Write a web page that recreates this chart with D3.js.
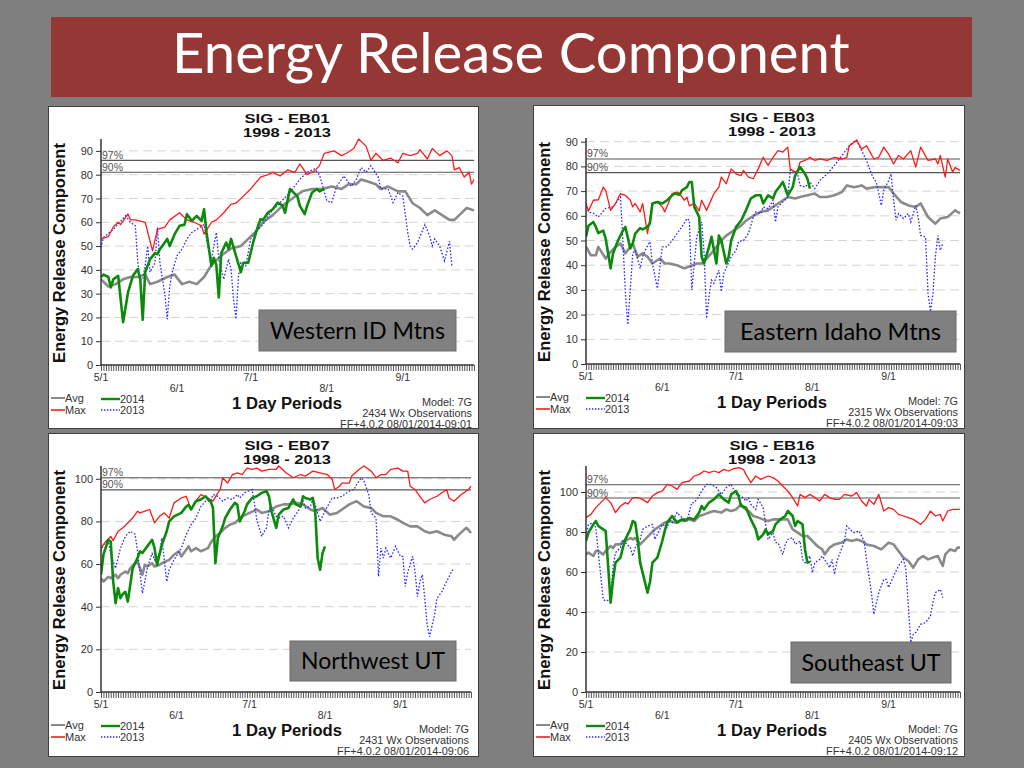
<!DOCTYPE html>
<html><head><meta charset="utf-8">
<script src="https://cdnjs.cloudflare.com/ajax/libs/d3/7.8.5/d3.min.js"></script>
<style>
html,body{margin:0;padding:0;background:#7f7f7f;}
svg{display:block;}
</style></head>
<body>
<svg id="chart" width="1024" height="768"></svg>
<script>
// ---------- DATA (day = days after May 1) ----------
const xTickDays = [0, 31, 61, 92, 123];
const xTickLabels = ["5/1", "6/1", "7/1", "8/1", "9/1"];
const seriesNames = ["Avg", "Max", "2014", "2013"];

// EB01 - Western ID Mtns
const eb01Avg = [[0,36],[3,33],[6,34],[9,36],[12,37],[15,37],[18,38],[20,34],[23,35],[27,37],[30,38],[33,34],[36,35],[39,34],[42,37],[45,42],[49,46],[53,49],[57,50],[60,53],[63,56],[66,60],[70,63],[74,67],[78,70],[82,73],[86,74],[90,74],[94,75],[98,74],[101,76],[104,76],[106,78],[109,77],[112,76],[114,74],[117,75],[121,73],[124,73],[127,68],[130,66],[133,63],[136,65],[139,63],[142,61],[144,61],[146,63],[149,66],[152,65]];
const eb01Max = [[0,53],[3,54],[5,58],[7,60],[8,59],[11,63.5],[12,61],[14,61],[18,60],[21,48],[23,57],[26,58],[28,61],[32,64],[35,61],[38,60],[41,58.5],[42,55],[45,60],[47,61],[50,64],[53,67.6],[55,68],[58,71],[61,74],[65,79],[68,80],[70,81],[73,79.5],[76,82],[79,81],[81,84.5],[84,80],[87,81.6],[89,83.7],[91,89],[95,90],[98,88],[100,89],[103,91],[105,95],[108,92],[110,86],[112,89],[115,86],[118,87],[121,85],[123,89],[126,88],[129,89],[130,90.5],[133,86.6],[135,91],[138,88],[141,90],[143,88],[144,82],[146,83],[148,79],[150,81],[151,76],[152,78]];
const eb01Y2014 = [[0,37],[1,38],[3,37],[4,32.6],[5,36],[7,37.5],[9,18],[11,30.5],[13,37.5],[15,40.3],[16,36],[17,19],[18,39],[20,44.5],[22,47],[23,46.6],[24,48.7],[27,53],[28,50],[30,55],[32,58.5],[34,59],[35,63.4],[37,60.6],[39,62.7],[41,60.6],[42,65.5],[43,55.7],[45,41.7],[46,45],[47,42],[48,28.4],[49,47],[51,51.5],[52,48.7],[53,53],[55,46],[57,39],[58,43],[60,43],[62,51.5],[64,58.5],[65,61.3],[66,61],[68,64],[70,65.5],[72,68.3],[74,67],[75,64],[77,74],[80,71],[81,67],[83,63.4],[84,67],[86,72.5],[88,74],[89,73],[91,74]];
const eb01Y2013 = [[0,49.4],[1,53.6],[5,57],[10,62.7],[12,60],[14,58.5],[15,43],[16,36],[17,36],[18,41.7],[19,50],[20,39],[22,43],[23,57.8],[24,43],[26,30],[27,19.3],[28,33],[29,39],[31,46],[33,48.7],[35,53],[37,55.7],[39,57],[42,59],[43,53],[44,47.3],[45,44.5],[47,55.7],[48,44.5],[50,36],[52,44.5],[53,40],[54,27.7],[55,19.3],[56,37],[57,43],[59,41.7],[61,53],[64,57],[66,59],[69,64],[73,68.3],[77,72.5],[81,78],[84,81],[87,82.4],[89,80],[92,69],[94,68.3],[96,75],[99,79.5],[102,75],[104,78],[106,83],[108,81],[110,83.7],[113,79],[114,74],[117,74],[119,68.3],[121,72.5],[123,71],[125,55.7],[126,50],[127,48.7],[129,51.5],[132,59],[134,54],[135,50],[136,53],[138,50],[140,43.8],[142,52],[143,41.7]];

// EB03 - Eastern Idaho Mtns
const eb03Avg = [[0,47.5],[2,44],[4,44],[5,47.4],[8,42.7],[10,45.4],[12,47.4],[14,48.8],[16,44.8],[19,48.8],[21,43.4],[23,44.8],[25,43.4],[27,40.7],[30,42.7],[32,40.7],[34,40.7],[37,40],[40,38.7],[42,39.5],[45,40.7],[47,40.7],[49,42.7],[52,46],[55,50],[57,52],[60,54],[63,56],[65,58],[68,60],[71,61.6],[74,62.2],[76,63.6],[79,65.6],[82,67.6],[85,67],[87,67.6],[90,68.3],[93,69],[95,67.6],[98,67.6],[101,68.3],[104,69.6],[106,72.3],[109,71.6],[112,72.3],[114,71],[117,71.6],[120,71.6],[123,71.6],[125,69],[128,65.6],[131,64.2],[134,63.6],[136,65],[139,59.5],[142,56.8],[144,58.9],[147,59.5],[150,62.2],[152,61]];
const eb03Max = [[0,65],[1,62],[3,66.3],[5,66.5],[7,71.6],[8,70.3],[10,62.2],[12,65],[14,69],[16,68.3],[18,66.3],[19,63.6],[20,65],[22,61.6],[23,65],[25,52.8],[27,65],[29,65.6],[31,63.6],[32,61.6],[34,66.3],[35,69],[37,69.6],[38,69],[40,66.3],[41,67.6],[42,64],[44,65],[46,62],[47,66.3],[49,62.2],[52,69],[54,71.6],[55,75.7],[57,73],[59,79],[61,77],[63,76.3],[64,78.4],[66,75.7],[68,75],[70,79],[72,83.7],[74,80.4],[76,83.7],[78,86.4],[80,85.8],[82,87.8],[83,79],[85,77.7],[86,78.4],[87,81.7],[89,82.4],[91,83.7],[93,82.4],[95,83],[98,82.4],[101,83.7],[104,83],[106,83.7],[107,88.4],[108,89],[110,90.7],[112,87],[114,88.4],[117,83],[119,83.7],[121,87.8],[123,85],[125,81],[127,84.4],[129,83],[132,86.4],[134,79.7],[136,87.8],[139,82.4],[142,83],[143,81],[144,84.4],[146,75.7],[147,83],[149,77.7],[150,79.5],[151,79],[152,78.4]];
const eb03Y2014 = [[0,51.5],[1,56],[3,57.5],[4,55.5],[5,53],[7,54],[8,50.8],[10,38.7],[11,44.8],[13,50],[15,54],[16,55.5],[18,46.8],[19,48.8],[20,52.8],[22,55],[23,54.5],[25,55.5],[26,57],[27,65],[29,65.6],[31,65],[33,66.3],[35,68.3],[36,69],[38,68.5],[39,70.3],[41,71.6],[42,73.7],[43,73.7],[44,63.6],[46,59.5],[47,43.4],[48,40.7],[50,47.4],[51,51.5],[53,40.7],[54,52],[55,50],[57,40.7],[58,43.4],[59,50],[61,55.5],[63,58],[65,62.2],[67,67],[69,68.3],[71,68.3],[72,65],[74,68.3],[76,67],[77,69.6],[79,72.3],[80,73.7],[82,68.3],[84,71.6],[85,76.3],[87,79.7],[89,77],[90,75],[91,71]];
const eb03Y2013 = [[0,65],[1,61.5],[3,61],[5,59.5],[8,63],[11,63.6],[14,67.6],[15,50],[16,28.6],[17,15.9],[19,44.8],[20,46],[22,38.7],[23,43.4],[24,46],[26,49.5],[27,40.7],[29,30.6],[31,47.4],[33,47.4],[35,50],[37,52.8],[39,55.5],[41,58.9],[42,58.2],[43,30],[45,51.5],[47,57.5],[48,44.8],[49,18.5],[50,27.3],[51,34],[52,32.7],[54,38],[55,29.3],[56,36.7],[59,43.4],[61,46],[62,49.5],[64,50],[66,52.8],[68,59.5],[69,61.6],[71,60.9],[72,63.6],[74,62.9],[76,66.3],[77,57.5],[78,63.6],[80,65.6],[82,67.6],[83,78.4],[84,77.7],[86,77],[87,72.3],[89,71.6],[91,73.7],[93,71],[95,74.3],[98,77],[101,80.4],[103,83],[106,87],[108,89.4],[110,90.5],[112,86.4],[114,82.4],[116,77],[117,75],[118,73.7],[120,64.2],[121,70.3],[123,74.3],[124,77],[125,66.3],[126,58.2],[127,60.9],[129,58.9],[131,60.9],[132,57.5],[134,64.2],[135,59.5],[136,52],[138,51.5],[139,28.6],[140,21.2],[141,28.6],[142,43.4],[143,52],[144,46],[145,48.8]];

// EB07 - Northwest UT
const eb07Avg = [[0,53.4],[1,51.8],[3,54],[4,53.4],[6,55],[7,53.4],[8,55],[10,56.5],[11,55.7],[12,58],[14,60.4],[15,61.2],[17,55],[18,59.6],[19,58.9],[21,60.4],[22,58.9],[24,59.6],[25,60.4],[28,62],[30,64.4],[32,66],[33,63.6],[35,66.7],[36,68.3],[37,66],[39,67.5],[41,66],[44,67.5],[45,69.9],[47,73],[49,74.6],[51,77],[53,78.5],[55,79.3],[58,82.4],[61,84],[64,85.6],[66,84],[69,84.8],[72,87],[75,88],[77,88],[80,88.7],[83,88],[86,85.6],[88,84.8],[91,86.3],[94,83.2],[97,84],[99,85.6],[102,88],[105,89.5],[108,87],[111,86.3],[113,84],[116,82.4],[119,82.4],[122,80.8],[124,79.3],[127,77.7],[130,77.7],[133,75.4],[135,74.6],[138,75.4],[141,73.8],[144,73],[145,71.4],[147,73.8],[150,77],[151,76],[152,74.6]];
const eb07Max = [[0,67.5],[2,70.6],[4,73],[5,71],[7,75.4],[9,77],[11,79.3],[13,81.6],[15,84.8],[16,84],[18,84.8],[20,85.6],[22,79.3],[24,82.4],[26,84],[28,81.6],[30,88.7],[33,91],[35,91.8],[36,88.7],[37,85.6],[39,89.5],[41,92.6],[44,91],[46,89.5],[48,93.4],[49,95],[50,100.5],[52,98],[54,102],[56,102.8],[58,102],[60,105],[62,104.4],[64,105],[66,103.6],[69,104.4],[72,104.4],[73,106],[76,102.8],[79,100.5],[82,102],[84,101.3],[87,103.6],[90,102.8],[93,102],[95,99.7],[96,95],[98,96.5],[99,98],[102,98],[103,101.3],[106,104.4],[108,106],[111,103.6],[113,100.5],[115,102],[117,102],[119,104.4],[122,105],[124,103.6],[126,103.6],[127,96.5],[129,95],[131,91.8],[133,88.7],[135,90.3],[138,91.8],[142,95],[143,91],[145,89.5],[148,92.6],[151,95],[152,96.5]];
const eb07Y2014 = [[0,55],[1,64.4],[3,71.4],[4,70.6],[5,52],[6,41.6],[7,48.7],[8,44],[9,46],[10,47],[11,42.4],[12,50.2],[13,58],[15,62.8],[16,66],[17,65.2],[19,68.3],[21,71.4],[22,67.5],[23,59.6],[25,69],[27,75.4],[28,80],[30,82.4],[33,84],[35,87],[36,87.8],[37,85.6],[39,89.5],[41,90.3],[43,91.8],[44,90.3],[45,89.5],[46,86.3],[47,60.4],[48,72.2],[50,77.7],[51,81.6],[53,85.6],[55,88.7],[56,87.8],[57,80],[59,84.8],[60,88],[62,91],[64,91.8],[66,93.4],[68,94.2],[69,91.8],[70,84.8],[72,77],[73,83.2],[75,85.6],[77,86.3],[79,90.3],[80,88],[82,87],[83,91.8],[84,91],[86,90.3],[87,91],[88,84.8],[89,62.8],[90,57.3],[91,65],[92,68.3]];
const eb07Y2013 = [[0,66],[1,69],[3,71.4],[4,64.4],[6,58],[7,62.8],[8,67.5],[10,73],[12,75.4],[14,74],[15,66],[17,46.3],[18,51.8],[19,58],[21,65],[22,62],[24,65],[25,72.2],[26,62],[27,51.8],[28,57.3],[30,62],[33,67.5],[35,73.8],[37,78.5],[39,81.6],[41,87],[43,89.5],[45,89.5],[46,92.6],[48,91.8],[50,89.5],[52,91],[54,90.3],[56,92.6],[57,91],[59,93.4],[62,95],[63,88.7],[64,80.8],[66,73],[68,77],[69,85.6],[70,87],[72,82.4],[73,81.6],[75,82.4],[77,77],[79,81.6],[81,84.8],[83,89.5],[84,86.3],[86,87],[87,90.3],[88,88],[90,80],[91,82.4],[93,87],[95,91],[97,91],[99,91.8],[102,94.2],[104,95],[105,97.3],[107,100.5],[108,99],[110,92.6],[111,84],[113,81.6],[114,54.2],[115,67.5],[116,62.8],[117,67.5],[119,62.8],[121,68.3],[123,63.6],[124,63.6],[125,49.5],[126,56],[128,63.6],[129,56.5],[130,44.7],[131,51.8],[132,55],[133,44],[134,31.4],[135,26],[137,36],[138,44],[140,47],[142,51.8],[144,56.5],[145,58]];

// EB16 - Southeast UT
const eb16Avg = [[0,68.8],[1,69.7],[3,68],[4,70.5],[5,70.5],[7,68.8],[8,70.5],[10,73],[11,72],[12,73.8],[14,73.8],[15,75.5],[16,75.5],[18,77],[19,76.3],[20,77],[22,73.8],[24,76.3],[26,78.8],[28,81.3],[30,83],[32,84.7],[34,85.5],[36,84.7],[38,85.5],[40,86.3],[42,86.3],[44,85.5],[46,88],[48,88.8],[50,89.7],[52,90.5],[55,89.7],[57,91.3],[59,90.5],[61,91.3],[63,93.8],[64,92.2],[66,90.5],[68,88],[70,87.2],[72,86.3],[74,85.5],[76,86.3],[79,86.3],[82,86.3],[84,81.3],[86,79.7],[88,78],[90,78],[92,75.5],[94,73],[96,71.3],[97,68.8],[99,72.2],[101,73.8],[104,74.7],[106,76.3],[108,75.5],[110,76.3],[112,75.5],[114,73.8],[117,73],[120,71.3],[123,74.7],[125,73.8],[127,70.5],[129,67.2],[131,65.5],[133,62.2],[135,66.3],[137,68],[139,66.3],[141,67.2],[143,68],[145,63],[146,68.8],[148,71.3],[150,70.5],[151,72.2],[152,72.2]];
const eb16Max = [[0,87.2],[2,88.8],[4,92.2],[6,94.7],[8,97.2],[10,94.7],[12,89.7],[14,93],[16,94.7],[17,94],[19,97.2],[21,97.2],[23,96.3],[25,94.7],[27,98],[29,99.7],[31,100.5],[33,103.8],[35,103],[37,101.3],[39,104.7],[42,105.5],[44,108],[46,108.8],[48,110.5],[50,109.7],[52,110.5],[54,109.7],[56,111.3],[58,110.5],[60,111.7],[62,112.2],[64,111.3],[65,108.8],[67,104.7],[69,108],[71,106.3],[74,108],[76,107.2],[78,105.5],[80,103],[82,100.5],[84,97.2],[86,93],[87,98.8],[89,97.2],[91,98.8],[93,97.2],[95,95.5],[97,98.8],[99,97.2],[101,96.3],[103,96.3],[105,98.8],[108,98],[110,99.7],[112,95.5],[114,93],[115,96.3],[117,93.8],[119,98.8],[121,90.5],[123,92.2],[125,91.3],[127,88.8],[129,88],[131,87.2],[133,86.3],[135,84.7],[136,83.8],[138,86.3],[140,90.5],[142,88],[144,88.8],[145,85.5],[147,90.5],[149,91.3],[151,91.3],[152,91.3]];
const eb16Y2014 = [[0,75.5],[1,79.7],[3,83.8],[4,85.5],[5,83],[7,81.3],[8,80.5],[9,63],[10,44.7],[11,56.3],[12,64.7],[14,67.2],[15,72.2],[16,76.3],[18,81.3],[19,85.5],[20,84.7],[21,76.3],[22,64.7],[24,54.7],[25,49.7],[26,55],[27,64.7],[29,67.2],[31,75.5],[32,80.5],[33,84.7],[35,88],[37,84.7],[39,86.3],[40,85.5],[42,87],[44,86.3],[46,89.7],[47,93],[48,91.3],[50,94.7],[52,96.3],[54,98.8],[56,96.3],[58,94.7],[59,98.8],[61,100.5],[62,98],[63,93],[65,92.2],[67,86.3],[69,81.3],[70,76.3],[72,78.8],[73,81.3],[74,78.8],[76,80.5],[77,83.8],[79,86.3],[81,88],[82,90.5],[84,88],[85,83],[86,85.5],[88,83.8],[89,71.3],[90,64.7],[91,65]];
const eb16Y2013 = [[0,78],[1,83.8],[3,84.5],[4,82.2],[5,69.7],[7,46.3],[8,45.5],[10,46.3],[11,63],[12,69.7],[14,72.2],[15,75.5],[16,74.7],[18,72.2],[19,68],[20,72.2],[22,76.3],[23,81.3],[25,83],[27,83.8],[28,76.3],[29,78.8],[31,83.8],[33,82.2],[34,86.3],[35,84.7],[37,89.7],[39,87.2],[41,85.5],[43,94.7],[44,94.7],[46,98],[47,100.5],[49,103.8],[51,103.8],[53,102.2],[55,98.8],[57,102.2],[59,103.8],[60,101.3],[61,98.8],[63,98],[65,95.5],[66,97.2],[67,93.8],[69,91.3],[70,96.3],[72,92.2],[73,83.8],[74,76.3],[76,79.7],[77,74.7],[78,74.7],[80,68.8],[81,73.8],[82,76.3],[84,77.2],[85,73.8],[87,75.5],[88,66.3],[89,64.7],[91,68],[92,59.7],[93,64.7],[95,66.3],[96,68],[97,66.3],[99,62.2],[100,66.3],[101,58.8],[102,65.5],[104,72.2],[105,75.5],[106,83],[108,80.5],[109,79.7],[111,80.5],[113,75.5],[114,66.3],[116,49.7],[117,38.8],[119,49.7],[121,56.3],[122,56.3],[123,52.2],[125,58],[127,63],[129,66.3],[130,61.3],[131,43],[132,24.7],[133,28.8],[134,29.7],[136,33.8],[138,34.7],[140,38],[141,44.7],[142,49.7],[144,51.3],[145,47.2]];

// Percentile lines and y ticks
const eb01Pct = [86, 81];
const eb03Pct = [83, 77.5];
const eb07Pct = [100.5, 94.8];
const eb16Pct = [103.6, 97];
const yTicks10 = [0,10,20,30,40,50,60,70,80,90];
const yTicks20 = [0,20,40,60,80,100];

// ---------- LAYOUT ----------
const panels = [
  {id:"EB01", avg:eb01Avg, max:eb01Max, y14:eb01Y2014, y13:eb01Y2013, pct:eb01Pct, yTop:95, ticks:yTicks10,
   obs:"2434 Wx Observations", stamp:"FF+4.0.2 08/01/2014-09:01", region:"Western ID Mtns",
   px:48, py:106, pw:431, ph:323, plotR:426, box:[211,204,197,41], boxTextW:175},
  {id:"EB03", avg:eb03Avg, max:eb03Max, y14:eb03Y2014, y13:eb03Y2013, pct:eb03Pct, yTop:91.5, ticks:yTicks10,
   obs:"2315 Wx Observations", stamp:"FF+4.0.2 08/01/2014-09:03", region:"Eastern Idaho Mtns",
   px:533, py:105, pw:432, ph:324, plotR:427, box:[192,206,231,41], boxTextW:201},
  {id:"EB07", avg:eb07Avg, max:eb07Max, y14:eb07Y2014, y13:eb07Y2013, pct:eb07Pct, yTop:106, ticks:yTicks20,
   obs:"2431 Wx Observations", stamp:"FF+4.0.2 08/01/2014-09:06", region:"Northwest UT",
   px:48, py:433, pw:431, ph:324, plotR:423, box:[242,208,166,40], boxTextW:144},
  {id:"EB16", avg:eb16Avg, max:eb16Max, y14:eb16Y2014, y13:eb16Y2013, pct:eb16Pct, yTop:113, ticks:yTicks20,
   obs:"2405 Wx Observations", stamp:"FF+4.0.2 08/01/2014-09:12", region:"Southeast UT",
   px:533, py:433, pw:432, ph:324, plotR:427, box:[258,209,160,41], boxTextW:139}
];

const svg = d3.select("#chart");
svg.append("rect").attr("width",1024).attr("height",768).attr("fill","#7f7f7f");

function fitWidth(sel, target){
  const w = sel.node().getComputedTextLength();
  const fs = parseFloat(sel.attr("font-size"));
  if (w > 0) sel.attr("font-size", (fs * target / w).toFixed(2));
}

// Title banner
svg.append("rect").attr("x",51).attr("y",17).attr("width",921).attr("height",80).attr("fill","#953735");
const ttl = svg.append("text").attr("x",172).attr("y",73).attr("font-family","Lato, 'Open Sans', sans-serif")
  .attr("font-size",52).attr("fill","#ffffff").text("Energy Release Component");
fitWidth(ttl, 678);

const AR = "'Liberation Sans', Arial, sans-serif";
const colors = {avg:"#8a8a8a", max:"#ff1a1a", y14:"#0b8a0b", y13:"#2a2aff"};

panels.forEach((p, i) => {
  const g = svg.append("g").attr("transform", `translate(${p.px},${p.py})`);
  g.append("rect").attr("x",0.5).attr("y",0.5).attr("width",p.pw-1).attr("height",p.ph-1)
    .attr("fill","#ffffff").attr("stroke","#3f3f3f").attr("stroke-width",1);

  const L = 53, T = 33, B = 259, R = p.plotR;
  const x = d3.scaleLinear().domain([0,152]).range([L, R]);
  const y = d3.scaleLinear().domain([0, p.yTop]).range([B, T]);

  // grid
  g.append("g").selectAll("line").data(p.ticks.filter(t => t > 0)).join("line")
    .attr("x1", L).attr("x2", R).attr("y1", d => y(d)).attr("y2", d => y(d))
    .attr("stroke","#d4d4d4").attr("stroke-width",1).attr("stroke-dasharray","9,5");

  // percentile lines
  p.pct.forEach((v, k) => {
    g.append("line").attr("x1",L).attr("x2",R).attr("y1",y(v)).attr("y2",y(v))
      .attr("stroke","#555").attr("stroke-width",1.1);
    g.append("text").attr("x",L+1).attr("y",y(v)-1.5).attr("font-family",AR).attr("font-size",10.5)
      .attr("fill","#555").text(k === 0 ? "97%" : "90%");
  });

  // clip
  const cid = "clip" + i;
  g.append("clipPath").attr("id", cid).append("rect").attr("x",L).attr("y",T-6).attr("width",R-L+2).attr("height",B-T+6);
  const line = d3.line().x(d => x(d[0])).y(d => y(d[1]));
  const plot = g.append("g").attr("clip-path", `url(#${cid})`);
  plot.append("path").datum(p.avg).attr("d", line).attr("fill","none").attr("stroke",colors.avg).attr("stroke-width",2.6).attr("stroke-linejoin","round");
  plot.append("path").datum(p.y13).attr("d", line).attr("fill","none").attr("stroke",colors.y13).attr("stroke-width",1.3).attr("stroke-dasharray","1.6,1.8");
  plot.append("path").datum(p.max).attr("d", line).attr("fill","none").attr("stroke",colors.max).attr("stroke-width",1.3).attr("stroke-linejoin","round");
  plot.append("path").datum(p.y14).attr("d", line).attr("fill","none").attr("stroke",colors.y14).attr("stroke-width",2.6).attr("stroke-linejoin","round");

  // y axis
  const ya = g.append("g").attr("transform",`translate(${L},0)`)
    .call(d3.axisLeft(y).tickValues(p.ticks).tickSize(5).tickPadding(3).tickFormat(d3.format("d")));
  ya.select(".domain").attr("d", `M0,${T}V${B}`).attr("stroke","#333").attr("stroke-width",1.5);
  ya.selectAll(".tick line").attr("stroke","#333");
  ya.selectAll(".tick text").attr("font-family",AR).attr("font-size",11).attr("fill","#333");

  // x axis with daily ticks
  const xa = g.append("g").attr("transform",`translate(0,${B})`)
    .call(d3.axisBottom(x).tickValues(d3.range(0,153)).tickSize(6).tickFormat(""));
  xa.select(".domain").attr("d", `M${L},0H${R}`).attr("stroke","#333").attr("stroke-width",1.5);
  xa.selectAll(".tick line").attr("stroke","#444").attr("stroke-width",0.9);
  g.append("g").selectAll("text").data(xTickDays).join("text")
    .attr("x", d => x(d)).attr("y", (d, j) => j % 2 === 0 ? 275 : 286)
    .attr("text-anchor","middle").attr("font-family",AR).attr("font-size",10.5).attr("fill","#333")
    .text((d, j) => xTickLabels[j]);

  // titles (stretched to the reference width)
  g.append("text").attr("x",239).attr("y",17).attr("text-anchor","middle").attr("font-family",AR)
    .attr("font-weight","bold").attr("font-size",13).attr("fill","#111")
    .attr("textLength",85).attr("lengthAdjust","spacingAndGlyphs").text("SIG - " + p.id);
  g.append("text").attr("x",239).attr("y",30.5).attr("text-anchor","middle").attr("font-family",AR)
    .attr("font-weight","bold").attr("font-size",13).attr("fill","#111")
    .attr("textLength",88).attr("lengthAdjust","spacingAndGlyphs").text("1998 - 2013");

  const yl = g.append("text").attr("transform","translate(17,147) rotate(-90)").attr("text-anchor","middle")
    .attr("font-family",AR).attr("font-weight","bold").attr("font-size",14).attr("fill","#111")
    .text("Energy Release Component");
  fitWidth(yl, 220);

  const xl = g.append("text").attr("x",239).attr("y",303).attr("text-anchor","middle").attr("font-family",AR)
    .attr("font-weight","bold").attr("font-size",15).attr("fill","#111").text("1 Day Periods");
  fitWidth(xl, 110);

  // legend
  const leg = [
    {name:seriesNames[0], c:colors.avg, w:2, dash:null, lx:3, ly:292},
    {name:seriesNames[1], c:colors.max, w:1.6, dash:null, lx:3, ly:304},
    {name:seriesNames[2], c:colors.y14, w:2.4, dash:null, lx:53, ly:293},
    {name:seriesNames[3], c:colors.y13, w:1.3, dash:"1.4,1.6", lx:53, ly:304}
  ];
  leg.forEach(l => {
    const len = l.lx > 10 ? 19 : 14;
    g.append("line").attr("x1",l.lx).attr("x2",l.lx+len).attr("y1",l.ly).attr("y2",l.ly)
      .attr("stroke",l.c).attr("stroke-width",l.w).attr("stroke-dasharray",l.dash);
    g.append("text").attr("x",l.lx+len).attr("y",l.ly+4).attr("font-family",AR)
      .attr("font-size",11).attr("fill","#333").text(l.name);
  });

  // right info
  const st = g.append("text").attr("x",R-2).attr("y",322).attr("text-anchor","end").attr("font-family",AR)
    .attr("font-size",11).attr("fill","#333").text(p.stamp);
  fitWidth(st, 132);
  const fs = st.attr("font-size");
  [["Model: 7G",300],[p.obs,311]].forEach(([s,yy]) => {
    g.append("text").attr("x",R-2).attr("y",yy).attr("text-anchor","end").attr("font-family",AR)
      .attr("font-size",fs).attr("fill","#333").text(s);
  });

  // region label box
  const [bx,by,bw,bh] = p.box;
  g.append("rect").attr("x",bx).attr("y",by).attr("width",bw).attr("height",bh)
    .attr("fill","#808080").attr("stroke","#6a6a6a").attr("stroke-width",1);
  const rt = g.append("text").attr("x",bx+bw/2).attr("y",by+bh/2+8).attr("text-anchor","middle")
    .attr("font-family","Lato, 'Open Sans', sans-serif").attr("font-size",23).attr("fill","#000").text(p.region);
  fitWidth(rt, p.boxTextW);
});
</script>
</body></html>
